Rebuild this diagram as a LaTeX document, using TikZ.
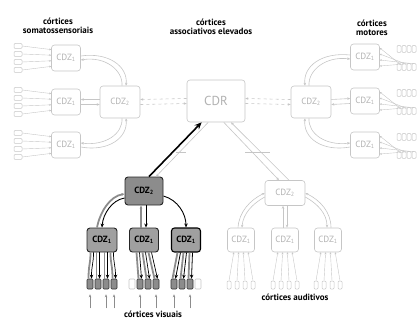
\documentclass[tikz,border=0pt]{standalone}
\usepackage{fontspec}
\setmainfont{PT Sans}
\usetikzlibrary{arrows.meta,calc}
\definecolor{lg}{HTML}{C6C6C6}
\definecolor{lt}{HTML}{B2B2B2}
\definecolor{dfill}{HTML}{8C8C8C}
\definecolor{dfillb}{HTML}{A0A0A0}
\begin{document}
\begin{tikzpicture}[x=1pt,y=-1pt,
 lbox/.style={draw=lg, rounded corners=3pt, fill=white, text=lt, line width=0.6pt, inner sep=0pt, minimum width=29pt, minimum height=26pt, font=\fontsize{9}{10}\selectfont},
 lbig/.style={lbox, minimum width=40pt, minimum height=32pt},
 dbox/.style={draw=black!85, fill=dfillb, rounded corners=3pt, line width=0.9pt, inner sep=0pt, minimum width=29pt, minimum height=24pt, font=\bfseries\fontsize{9}{10}\selectfont},
 ttl/.style={font=\bfseries\fontsize{9}{9.5}\selectfont, align=center},
 srect/.style={draw=lg, rounded corners=1pt, minimum width=8pt, minimum height=5pt, inner sep=0pt, line width=0.5pt},
 vrect/.style={draw=lg, rounded corners=1pt, minimum width=4pt, minimum height=7pt, inner sep=0pt, line width=0.5pt},
 vsm/.style={draw=black!80, fill=dfill, rounded corners=1pt, minimum width=6pt, minimum height=10pt, inner sep=0pt, line width=0.6pt},
 vsmf/.style={draw=lg, fill=white, rounded corners=1pt, minimum width=6pt, minimum height=10pt, inner sep=0pt, line width=0.6pt},
 lc/.style={draw=lg, line width=0.6pt},
 ltip/.style={-{Stealth[length=3pt,width=2.5pt]}},
 stip/.style={-{Stealth[length=2pt,width=2pt]}},
 gtube/.style={draw=black!45, line width=1.8pt},
 btip/.style={draw=black, line width=0.9pt, -{Stealth[length=4pt,width=3.5pt]}},
 uparr/.style={draw=black!45, line width=0.5pt, -{Stealth[length=3pt,width=2.5pt]}}
]
\useasboundingbox (0,0) rectangle (419,320);

% titles
\node[ttl] (t1) at (58,26) {córtices\\somatossensoriais};
\node[ttl] (t2) at (211,27) {córtices\\associativos elevados};
\node[ttl] (t3) at (372,28) {córtices\\motores};
\node[ttl] (t4) at (153,314) {córtices visuais};
\node[ttl] (t5) at (295,297) {córtices auditivos};

% central
\node[lbox, minimum width=58pt, minimum height=42pt, font=\fontsize{13}{14}\selectfont] (cdr) at (216,101) {CDR};
\node[lbig] (L2) at (120,102) {CDZ\textsubscript{2}};
\node[lbig] (R2) at (311,102) {CDZ\textsubscript{2}};
\node[lbox, minimum width=40pt, minimum height=25pt] (A2) at (285,193) {CDZ\textsubscript{2}};
\node[dbox, fill=dfill, minimum width=38pt, minimum height=28pt] (V2) at (144,191) {CDZ\textsubscript{2}};

% CDR links
\draw[lc, dashed, ltip] ($(cdr.west)+(0,-2.5)$) -- ($(L2.east)+(0,-2.5)$);
\draw[lc, dashed, ltip] ($(L2.east)+(0,2.5)$) -- ($(cdr.west)+(0,2.5)$);
\draw[lc, dashed, ltip] ($(cdr.east)+(0,2.5)$) -- ($(R2.west)+(0,2.5)$);
\draw[lc, dashed, ltip] ($(R2.west)+(0,-2.5)$) -- ($(cdr.east)+(0,-2.5)$);
\draw[lc, ltip] (cdr.290) -- ($(A2.north)+(-6,0)$);
\draw[lc, ltip] ($(A2.north)+(4,0)$) -- (cdr.305);
\coordinate (tk1) at (245,152);
\coordinate (tk2) at (270,152);
\draw[lc] (tk1) -- (tk2);
\draw[lc, ltip] (cdr.250) -- ($(V2.north)+(12,0)$);
\draw[line width=1.6pt, -{Stealth[length=7pt,width=6pt]}] ($(V2.north)+(5,0)$) -- (cdr.236);
\coordinate (tk3) at (176,152);
\coordinate (tk4) at (186,152);
\draw[lc] (tk3) -- (tk4);

% left side
\foreach \n/\y in {t/58, m/102, b/145} {
  \node[lbox] (L1\n) at (66,\y) {CDZ\textsubscript{1}};
  \foreach \i/\d in {1/-12,2/-4,3/4,4/12} {
    \node[srect] (Ls\n\i) at (18,\y+\d) {};
    \draw[lc, line width=0.4pt, stip] (Ls\n\i.east) -- ($(L1\n.west)+(0,0.7*\d)$);
  }
}
\draw[lc, ltip] ($(L2.north)+(2,0)$) .. controls (123,70) and (105,56) .. ($(L1t.east)+(0,2)$);
\draw[lc, ltip] ($(L1t.east)+(0,-2)$) .. controls (108,52) and (128,66) .. ($(L2.north)+(6,0)$);
\draw[lc, ltip] ($(L2.west)+(0,-2.5)$) -- ($(L1m.east)+(0,-2.5)$);
\draw[lc, ltip] ($(L1m.east)+(0,2.5)$) -- ($(L2.west)+(0,2.5)$);
\draw[lc, ltip] ($(L2.south)+(2,0)$) .. controls (123,134) and (105,146) .. ($(L1b.east)+(0,-2)$);
\draw[lc, ltip] ($(L1b.east)+(0,2)$) .. controls (108,152) and (128,138) .. ($(L2.south)+(6,0)$);

% right side
\foreach \n/\y in {t/57, m/101, b/145} {
  \node[lbox] (R1\n) at (365,\y) {CDZ\textsubscript{1}};
  \foreach \i/\x in {1/399,2/404,3/409,4/414} {
    \node[vrect] (Ru\n\i) at (\x,\y-8) {};
    \node[vrect] (Rd\n\i) at (\x,\y+10) {};
  }
  \foreach \i/\d in {1/-9,2/-3,3/3,4/9} {
    \draw[lc, line width=0.4pt, stip] (Rd\n\i.north) -- ($(R1\n.east)+(0,\d)$);
  }
}
\draw[lc, ltip] ($(R2.north)+(-2,0)$) .. controls (308,70) and (326,56) .. ($(R1t.west)+(0,2)$);
\draw[lc, ltip] ($(R1t.west)+(0,-2)$) .. controls (322,52) and (303,66) .. ($(R2.north)+(-6,0)$);
\draw[lc, ltip] ($(R2.east)+(0,-2.5)$) -- ($(R1m.west)+(0,-2.5)$);
\draw[lc, ltip] ($(R1m.west)+(0,2.5)$) -- ($(R2.east)+(0,2.5)$);
\draw[lc, ltip] ($(R2.south)+(-2,0)$) .. controls (308,134) and (326,146) .. ($(R1b.west)+(0,-2)$);
\draw[lc, ltip] ($(R1b.west)+(0,2)$) .. controls (322,152) and (303,138) .. ($(R2.south)+(-6,0)$);

% auditory
\foreach \n/\x in {l/241, m/285, r/328} {
  \node[lbox, minimum width=27pt, minimum height=24pt] (A1\n) at (\x,240) {CDZ\textsubscript{1}};
  \foreach \i/\d in {1/-12,2/-4,3/4,4/12} {
    \node[vrect, minimum height=8pt] (As\n\i) at (\x+\d,285) {};
    \draw[lc, line width=0.4pt, stip] (As\n\i.north) -- ($(A1\n.south)+(0.6*\d,0)$);
  }
}
\draw[lc, ltip] ($(A2.west)+(0,4)$) .. controls (252,204) and (243,214) .. ($(A1l.north)+(1,0)$);
\draw[lc, ltip] ($(A1l.north)+(-3,0)$) .. controls (239,212) and (250,200) .. ($(A2.west)+(0,0)$);
\draw[lc, ltip] ($(A2.south)+(2,0)$) -- ($(A1m.north)+(2,0)$);
\draw[lc, ltip] ($(A1m.north)+(-2,0)$) -- ($(A2.south)+(-2,0)$);
\draw[lc, ltip] ($(A2.east)+(0,4)$) .. controls (318,204) and (327,214) .. ($(A1r.north)+(-1,0)$);
\draw[lc, ltip] ($(A1r.north)+(3,0)$) .. controls (331,212) and (320,200) .. ($(A2.east)+(0,0)$);

% visual
\node[dbox, minimum width=30pt] (V1l) at (102,240) {CDZ\textsubscript{1}};
\node[dbox] (V1m) at (144,240) {CDZ\textsubscript{1}};
\node[dbox, draw=black, line width=1.1pt] (V1r) at (186,240) {CDZ\textsubscript{1}};

\draw[gtube, ltip] ($(V1l.north)+(-5,0)$) .. controls (100,212) and (110,196) .. ($(V2.west)+(0,3)$);
\draw[btip] ($(V2.west)+(0,7)$) .. controls (112,200) and (103,214) .. ($(V1l.north)+(0,0)$);
\draw[gtube, ltip] ($(V1m.north)+(-3,0)$) -- ($(V2.south)+(-3,0)$);
\draw[btip] ($(V2.south)+(2,0)$) -- ($(V1m.north)+(2,0)$);
\draw[btip] ($(V2.east)+(0,5)$) .. controls (178,200) and (186,214) .. (V1r.north);

\foreach \n/\x/\fa/\fb/\fc/\fd in {l/102/vsm/vsm/vsm/vsm, m/144/vsmf/vsm/vsm/vsm, r/186/vsm/vsm/vsm/vsmf} {
  \node[\fa] (Vs\n1) at (\x-12,284) {};
  \node[\fb] (Vs\n2) at (\x-4,284) {};
  \node[\fc] (Vs\n3) at (\x+4,284) {};
  \node[\fd] (Vs\n4) at (\x+12,284) {};
}
\foreach \i/\d in {1/-10,2/-4,3/4,4/10} {
  \draw[gtube] ($(V1l.south)+(\d-1.5,0)$) .. controls ($(V1l.south)+(\d-1.5,12)$) and ($(Vsl\i.north)+(-1.5,-14)$) .. ($(Vsl\i.north)+(-1.5,0)$);
  \draw[btip, line width=0.7pt] ($(V1l.south)+(\d+1.5,0)$) .. controls ($(V1l.south)+(\d+1.5,12)$) and ($(Vsl\i.north)+(1.5,-14)$) .. ($(Vsl\i.north)+(1.5,0)$);
}
\foreach \i/\d in {2/-6,3/0,4/6} {
  \draw[gtube] ($(V1m.south)+(\d-1.5,0)$) -- ($(Vsm\i.north)+(-1.5,0)$);
  \draw[btip, line width=0.7pt] ($(V1m.south)+(\d+1.5,0)$) -- ($(Vsm\i.north)+(1.5,0)$);
}
\foreach \i/\d in {1/-7,2/-1,3/5} {
  \draw[gtube] ($(V1r.south)+(\d-1.5,0)$) -- ($(Vsr\i.north)+(-1.5,0)$);
  \draw[btip, line width=0.8pt] ($(V1r.south)+(\d+1.5,0)$) -- ($(Vsr\i.north)+(1.5,0)$);
}
% upward input arrows
\foreach \s in {Vsl1, Vsl3, Vsl4, Vsm2, Vsm4, Vsr1, Vsr3} {
  \coordinate (\s b) at ($(\s.south)+(0,19)$);
  \draw[uparr] (\s b) -- ($(\s.south)+(0,5)$);
}
\end{tikzpicture}
\end{document}
